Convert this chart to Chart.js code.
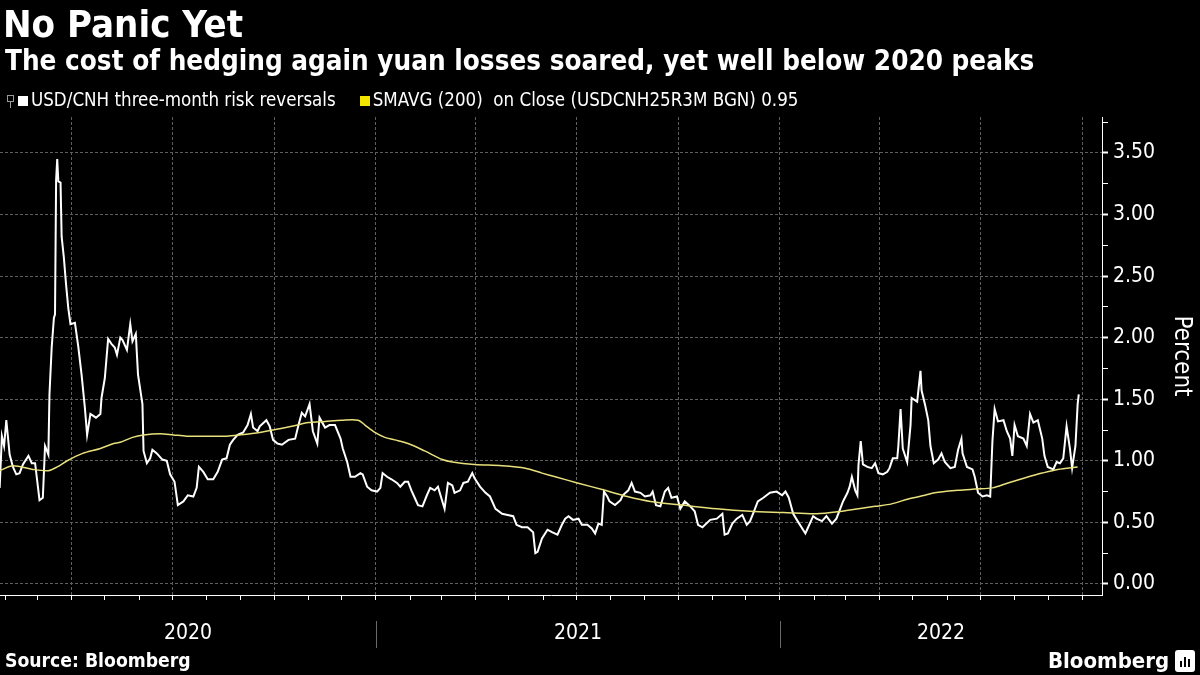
<!DOCTYPE html>
<html>
<head>
<meta charset="utf-8">
<title>No Panic Yet</title>
<script src="https://cdn.jsdelivr.net/npm/chart.js@4.4.1/dist/chart.umd.min.js"></script>
<style>
  html, body { margin: 0; padding: 0; background: #000; }
  body {
    width: 1200px; height: 675px; position: relative; overflow: hidden; color: #fff;
    font-family: "DejaVu Sans Condensed", "DejaVu Sans", sans-serif;
  }
  .txt { position: absolute; white-space: nowrap; line-height: 1; }
  #title { left: 3px; top: 5px; font-size: 38px; font-weight: bold; }
  #subtitle { left: 5px; top: 47px; font-size: 27.6px; font-weight: bold; }
  #legend { left: 7px; top: 91px; font-size: 18.6px; }
  #source { left: 5px; top: 651px; font-size: 19.2px; font-weight: bold; }
  #brand { left: 1048px; top: 650px; font-size: 22px; font-weight: bold; }
  .sw { display: inline-block; width: 10px; height: 10px; margin-right: 3px; vertical-align: 0px; }
  .ico { display: inline-block; width: 5px; height: 5px; border: 1px solid #999; margin-right: 4px; position: relative; vertical-align: 4px; }
  .ico::after { content: ""; position: absolute; left: 2px; top: 6px; width: 1px; height: 6px; background: #999; }
  #logo { position: absolute; left: 1175px; top: 650px; width: 20px; height: 22px; background: #fff; border-radius: 3px; }
  #logo span { position: absolute; bottom: 5px; width: 2px; background: #000; }
  #chartBox { position: absolute; left: 0; top: 0; width: 1200px; height: 675px; }
</style>
</head>
<body>
<div id="chartBox"><canvas id="chart"></canvas></div>
<div id="title" class="txt">No Panic Yet</div>
<div id="subtitle" class="txt">The cost of hedging again yuan losses soared, yet well below 2020 peaks</div>
<div id="legend" class="txt"><span class="ico"></span><span class="sw" style="background:#ffffff"></span>USD/CNH three-month risk reversals<span class="sw" style="background:#f2e600;margin-left:24px"></span>SMAVG (200)&nbsp; on Close (USDCNH25R3M BGN) 0.95</div>
<div id="source" class="txt">Source: Bloomberg</div>
<div id="brand" class="txt">Bloomberg</div>
<div id="logo"><span style="left:5px;height:6px"></span><span style="left:9px;height:10px"></span><span style="left:13px;height:8px"></span></div>

<script>
// USD/CNH three-month 25-delta risk reversal (percent)
const riskDates = [
  "2020-01-27", "2020-01-29", "2020-01-31", "2020-02-02", "2020-02-05", "2020-02-08", "2020-02-11", "2020-02-14", "2020-02-17", "2020-02-22",
  "2020-02-25", "2020-02-28", "2020-03-01", "2020-03-03", "2020-03-06", "2020-03-08", "2020-03-11", "2020-03-12", "2020-03-14", "2020-03-16",
  "2020-03-17", "2020-03-18", "2020-03-19", "2020-03-20", "2020-03-22", "2020-03-23", "2020-03-25", "2020-03-27", "2020-03-29", "2020-03-31",
  "2020-04-04", "2020-04-07", "2020-04-10", "2020-04-13", "2020-04-15", "2020-04-18", "2020-04-23", "2020-04-27", "2020-04-28", "2020-05-01",
  "2020-05-04", "2020-05-07", "2020-05-10", "2020-05-12", "2020-05-15", "2020-05-17", "2020-05-21", "2020-05-24", "2020-05-26", "2020-05-29",
  "2020-05-31", "2020-06-04", "2020-06-05", "2020-06-08", "2020-06-11", "2020-06-13", "2020-06-17", "2020-06-22", "2020-06-26", "2020-06-29",
  "2020-07-03", "2020-07-06", "2020-07-11", "2020-07-15", "2020-07-20", "2020-07-23", "2020-07-25", "2020-07-29", "2020-08-02", "2020-08-07",
  "2020-08-11", "2020-08-15", "2020-08-19", "2020-08-22", "2020-08-25", "2020-08-29", "2020-09-03", "2020-09-07", "2020-09-10", "2020-09-12",
  "2020-09-16", "2020-09-18", "2020-09-24", "2020-09-27", "2020-09-30", "2020-10-04", "2020-10-08", "2020-10-14", "2020-10-20", "2020-10-23",
  "2020-10-26", "2020-10-29", "2020-11-02", "2020-11-05", "2020-11-09", "2020-11-11", "2020-11-16", "2020-11-20", "2020-11-25", "2020-11-30",
  "2020-12-02", "2020-12-06", "2020-12-09", "2020-12-13", "2020-12-18", "2020-12-20", "2020-12-24", "2020-12-28", "2021-01-02", "2021-01-05",
  "2021-01-07", "2021-01-11", "2021-01-15", "2021-01-20", "2021-01-23", "2021-01-27", "2021-01-30", "2021-02-02", "2021-02-05", "2021-02-08",
  "2021-02-12", "2021-02-16", "2021-02-19", "2021-02-23", "2021-02-26", "2021-03-02", "2021-03-04", "2021-03-07", "2021-03-11", "2021-03-13",
  "2021-03-18", "2021-03-21", "2021-03-25", "2021-03-29", "2021-03-31", "2021-04-05", "2021-04-10", "2021-04-14", "2021-04-19", "2021-04-25",
  "2021-04-30", "2021-05-05", "2021-05-08", "2021-05-13", "2021-05-18", "2021-05-23", "2021-05-25", "2021-05-27", "2021-05-31", "2021-06-05",
  "2021-06-09", "2021-06-14", "2021-06-18", "2021-06-21", "2021-06-24", "2021-06-28", "2021-07-03", "2021-07-06", "2021-07-11", "2021-07-15",
  "2021-07-18", "2021-07-21", "2021-07-24", "2021-07-26", "2021-07-29", "2021-07-31", "2021-08-05", "2021-08-10", "2021-08-12", "2021-08-17",
  "2021-08-20", "2021-08-23", "2021-08-28", "2021-09-01", "2021-09-06", "2021-09-08", "2021-09-11", "2021-09-15", "2021-09-19", "2021-09-22",
  "2021-09-25", "2021-09-30", "2021-10-03", "2021-10-07", "2021-10-12", "2021-10-16", "2021-10-19", "2021-10-23", "2021-10-30", "2021-11-05",
  "2021-11-10", "2021-11-12", "2021-11-15", "2021-11-19", "2021-11-23", "2021-11-28", "2021-12-02", "2021-12-05", "2021-12-09", "2021-12-12",
  "2021-12-17", "2021-12-23", "2021-12-29", "2022-01-03", "2022-01-06", "2022-01-09", "2022-01-13", "2022-01-17", "2022-01-24", "2022-01-26",
  "2022-01-31", "2022-02-03", "2022-02-08", "2022-02-12", "2022-02-17", "2022-02-21", "2022-02-24", "2022-02-27", "2022-03-03", "2022-03-05",
  "2022-03-07", "2022-03-10", "2022-03-12", "2022-03-13", "2022-03-15", "2022-03-17", "2022-03-21", "2022-03-25", "2022-03-28", "2022-03-31",
  "2022-04-04", "2022-04-08", "2022-04-10", "2022-04-13", "2022-04-17", "2022-04-18", "2022-04-20", "2022-04-22", "2022-04-26", "2022-04-29",
  "2022-04-30", "2022-05-05", "2022-05-08", "2022-05-09", "2022-05-12", "2022-05-15", "2022-05-17", "2022-05-20", "2022-05-24", "2022-05-27",
  "2022-05-30", "2022-06-04", "2022-06-08", "2022-06-11", "2022-06-14", "2022-06-15", "2022-06-19", "2022-06-24", "2022-06-26", "2022-06-29",
  "2022-07-03", "2022-07-07", "2022-07-10", "2022-07-12", "2022-07-14", "2022-07-17", "2022-07-22", "2022-07-25", "2022-07-28", "2022-07-30",
  "2022-08-01", "2022-08-04", "2022-08-09", "2022-08-12", "2022-08-15", "2022-08-18", "2022-08-22", "2022-08-26", "2022-08-28", "2022-08-31",
  "2022-09-05", "2022-09-08", "2022-09-11", "2022-09-14", "2022-09-17", "2022-09-20", "2022-09-22", "2022-09-25", "2022-09-27", "2022-09-28",
];
const riskRev = [
  0.78, 1.20, 1.12, 1.33, 1.05, 0.95, 0.89, 0.90, 0.97, 1.04,
  0.98, 0.98, 0.83, 0.68, 0.70, 1.12, 1.05, 1.54, 1.92, 2.16,
  2.19, 3.28, 3.45, 3.27, 3.26, 2.82, 2.65, 2.43, 2.24, 2.11,
  2.12, 1.93, 1.70, 1.43, 1.21, 1.38, 1.35, 1.38, 1.51, 1.67,
  1.99, 1.95, 1.92, 1.86, 2.00, 1.98, 1.90, 2.11, 1.97, 2.03,
  1.70, 1.46, 1.08, 0.98, 1.02, 1.09, 1.06, 1.01, 1.00, 0.89,
  0.83, 0.64, 0.67, 0.72, 0.71, 0.78, 0.95, 0.91, 0.85, 0.85,
  0.91, 1.01, 1.02, 1.13, 1.17, 1.21, 1.23, 1.29, 1.38, 1.27,
  1.24, 1.28, 1.33, 1.28, 1.17, 1.14, 1.13, 1.17, 1.18, 1.29,
  1.39, 1.36, 1.46, 1.24, 1.14, 1.35, 1.27, 1.29, 1.29, 1.18,
  1.10, 0.99, 0.87, 0.87, 0.90, 0.89, 0.79, 0.76, 0.75, 0.78,
  0.90, 0.87, 0.85, 0.82, 0.79, 0.83, 0.83, 0.76, 0.70, 0.64,
  0.63, 0.72, 0.78, 0.76, 0.79, 0.67, 0.61, 0.82, 0.80, 0.74,
  0.76, 0.82, 0.83, 0.90, 0.86, 0.79, 0.74, 0.71, 0.61, 0.57,
  0.56, 0.55, 0.48, 0.46, 0.46, 0.42, 0.25, 0.26, 0.37, 0.44,
  0.42, 0.40, 0.48, 0.53, 0.55, 0.52, 0.53, 0.48, 0.48, 0.45,
  0.41, 0.49, 0.48, 0.75, 0.71, 0.67, 0.64, 0.68, 0.72, 0.76,
  0.82, 0.75, 0.74, 0.71, 0.72, 0.75, 0.64, 0.63, 0.75, 0.78,
  0.70, 0.71, 0.61, 0.67, 0.63, 0.59, 0.48, 0.46, 0.52, 0.53,
  0.57, 0.40, 0.41, 0.49, 0.53, 0.56, 0.48, 0.51, 0.60, 0.67,
  0.70, 0.74, 0.75, 0.72, 0.75, 0.70, 0.57, 0.51, 0.41, 0.45,
  0.55, 0.53, 0.51, 0.55, 0.49, 0.53, 0.60, 0.67, 0.74, 0.79,
  0.87, 0.76, 0.72, 0.97, 1.16, 0.97, 0.95, 0.94, 0.98, 0.90,
  0.89, 0.91, 0.94, 1.02, 1.02, 1.12, 1.42, 1.10, 0.99, 1.29,
  1.51, 1.48, 1.73, 1.57, 1.46, 1.33, 1.12, 0.98, 1.01, 1.06,
  0.99, 0.94, 0.95, 1.09, 1.18, 1.06, 0.95, 0.93, 0.87, 0.74,
  0.71, 0.72, 0.71, 1.16, 1.42, 1.32, 1.33, 1.24, 1.18, 1.04,
  1.29, 1.20, 1.18, 1.12, 1.38, 1.31, 1.33, 1.18, 1.04, 0.95,
  0.93, 0.99, 0.98, 1.02, 1.28, 1.10, 0.94, 1.12, 1.46, 1.54,
];

// 200-day simple moving average of the same series
const smaDates = [
  "2020-01-27", "2020-02-08", "2020-02-26", "2020-03-11", "2020-03-19", "2020-03-28", "2020-04-11", "2020-04-27", "2020-05-09", "2020-05-15",
  "2020-05-26", "2020-06-05", "2020-06-20", "2020-07-02", "2020-07-14", "2020-08-01", "2020-08-19", "2020-08-31", "2020-09-18", "2020-10-06",
  "2020-10-17", "2020-11-01", "2020-11-16", "2020-12-01", "2020-12-16", "2020-12-22", "2020-12-31", "2021-01-09", "2021-01-18", "2021-01-30",
  "2021-02-14", "2021-03-02", "2021-03-11", "2021-03-31", "2021-04-25", "2021-05-16", "2021-05-31", "2021-06-12", "2021-07-02", "2021-07-27",
  "2021-08-16", "2021-09-06", "2021-10-05", "2021-11-05", "2021-12-05", "2022-01-04", "2022-02-03", "2022-02-26", "2022-03-13", "2022-03-28",
  "2022-04-12", "2022-04-27", "2022-05-12", "2022-05-21", "2022-06-11", "2022-06-26", "2022-07-12", "2022-07-26", "2022-08-10", "2022-08-26",
  "2022-09-09", "2022-09-27",
];
const smaValues = [
  0.92, 0.96, 0.93, 0.92, 0.95, 1.00, 1.06, 1.10, 1.14, 1.15,
  1.19, 1.21, 1.22, 1.21, 1.20, 1.20, 1.20, 1.21, 1.23, 1.26,
  1.28, 1.31, 1.32, 1.33, 1.33, 1.29, 1.23, 1.19, 1.17, 1.14,
  1.08, 1.01, 0.99, 0.97, 0.96, 0.94, 0.90, 0.87, 0.82, 0.76,
  0.71, 0.67, 0.64, 0.61, 0.59, 0.58, 0.57, 0.59, 0.61, 0.63,
  0.65, 0.69, 0.72, 0.74, 0.76, 0.77, 0.78, 0.82, 0.86, 0.90,
  0.93, 0.95,
];

const yearLabels = ["2020", "2021", "2022"];
const yLabelTicks = [0, 0.5, 1, 1.5, 2, 2.5, 3, 3.5];

// x values are days since 2020-01-01
const DAY0 = Date.UTC(2020, 0, 1);
const toDay = (s) => (Date.parse(s) - DAY0) / 864e5;
const dayOf = (y, m) => (Date.UTC(y, m, 1) - DAY0) / 864e5;

const X_MIN = 26.3;
const X_MAX = 1022;

const monthTicks = [];
const quarterTicks = new Set();
yearLabels.forEach((yr) => {
  for (let m = 0; m < 12; m++) {
    const d = dayOf(+yr, m);
    if (d > X_MIN && d < X_MAX) {
      monthTicks.push(d);
      if (m % 3 === 0) quarterTicks.add(d);
    }
  }
});
const yAllTicks = yLabelTicks.flatMap((v) => [v, v + 0.25]);

const FONT = '"DejaVu Sans Condensed", "DejaVu Sans", sans-serif';
const GRID = "#5e5e5e";

// year names under the axis, centred on the visible part of each year
const yearAxis = {
  id: "yearAxis",
  afterDraw(chart) {
    const { ctx } = chart;
    const x = chart.scales.x;
    ctx.save();
    ctx.font = "21px " + FONT;
    ctx.fillStyle = "#ffffff";
    ctx.textAlign = "center";
    ctx.textBaseline = "middle";
    yearLabels.forEach((yr) => {
      const a = Math.max(dayOf(+yr, 0), x.min);
      const b = Math.min(dayOf(+yr + 1, 0), x.max);
      ctx.fillText(yr, (x.getPixelForValue(a) + x.getPixelForValue(b)) / 2, 634);
      const edge = dayOf(+yr + 1, 0);
      if (edge < x.max) {
        const px = Math.round(x.getPixelForValue(edge)) + 0.5;
        ctx.strokeStyle = "#6a6a6a";
        ctx.lineWidth = 1;
        ctx.beginPath();
        ctx.moveTo(px, 621);
        ctx.lineTo(px, 648);
        ctx.stroke();
      }
    });
    ctx.restore();
  },
};

const chartCtx = document.getElementById("chart").getContext("2d");
new Chart(chartCtx, {
  type: "line",
  data: {
    datasets: [
      {
        label: "USD/CNH three-month risk reversals",
        data: riskDates.map((d, i) => ({ x: toDay(d), y: riskRev[i] })),
        borderColor: "#ffffff",
        borderWidth: 2,
        pointRadius: 0,
        tension: 0,
        order: 1,
      },
      {
        label: "SMAVG (200) on Close (USDCNH25R3M BGN)",
        data: smaDates.map((d, i) => ({ x: toDay(d), y: smaValues[i] })),
        borderColor: "#e8e07c",
        borderWidth: 1.5,
        pointRadius: 0,
        tension: 0.3,
        order: 0,
      },
    ],
  },
  options: {
    responsive: true,
    maintainAspectRatio: false,
    animation: false,
    layout: { padding: { top: 117, left: 0, right: 0, bottom: 0 } },
    plugins: {
      legend: { display: false },
      tooltip: { enabled: false },
    },
    scales: {
      x: {
        type: "linear",
        min: X_MIN,
        max: X_MAX,
        afterBuildTicks: (s) => { s.ticks = monthTicks.map((v) => ({ value: v })); },
        afterFit: (s) => { s.height = 80; },
        ticks: { display: false },
        grid: {
          color: (c) => (c.tick && quarterTicks.has(c.tick.value) ? GRID : "transparent"),
          tickColor: "#ffffff",
          tickLength: 5,
        },
        border: { color: "#ffffff", width: 1, dash: [3, 2] },
      },
      y: {
        position: "right",
        min: -0.09,
        max: 3.792,
        afterBuildTicks: (s) => { s.ticks = yAllTicks.map((v) => ({ value: v })); },
        afterFit: (s) => { s.width = 98; },
        ticks: {
          color: "#ffffff",
          font: { family: FONT, size: 21 },
          padding: 5,
          autoSkip: false,
          callback: (v) => (yLabelTicks.includes(v) ? v.toFixed(2) : ""),
        },
        grid: {
          color: (c) => (c.tick && yLabelTicks.includes(c.tick.value) ? GRID : "transparent"),
          tickColor: "#ffffff",
          tickLength: 6,
          tickWidth: (c) => (c.tick && yLabelTicks.includes(c.tick.value) ? 2 : 1),
        },
        border: { color: "#ffffff", width: 1, dash: [3, 2] },
        title: {
          display: true,
          text: "Percent",
          color: "#ffffff",
          font: { family: FONT, size: 24 },
          padding: { top: 4, bottom: 4 },
        },
      },
    },
  },
  plugins: [yearAxis],
});
</script>
</body>
</html>
